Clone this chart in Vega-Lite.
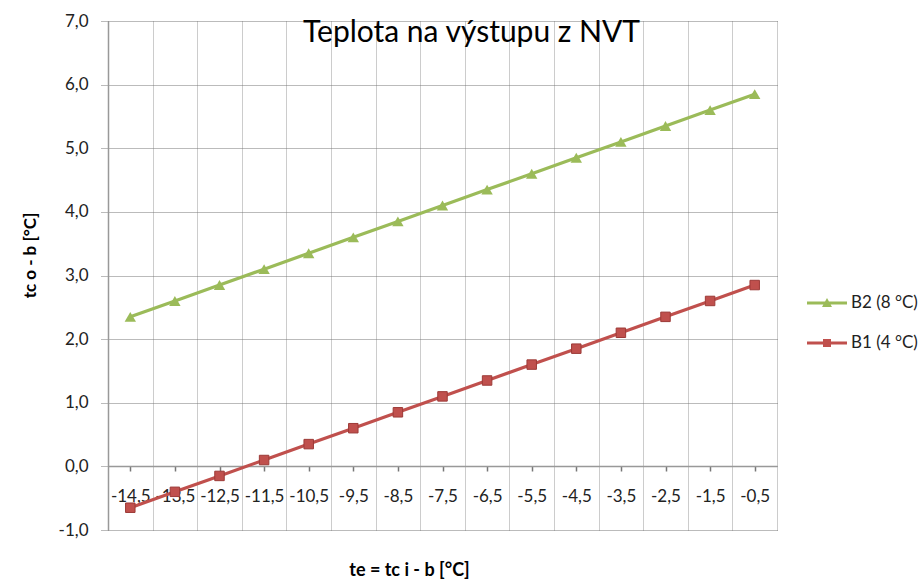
{
  "$schema": "https://vega.github.io/schema/vega-lite/v6.json",
  "width": 669,
  "height": 509,
  "autosize": {"type": "none"},
  "padding": {"left": 108, "top": 21, "right": 145, "bottom": 49},
  "background": "white",
  "config": {"font": "Lato", "view": {"stroke": null}},
  "title": {"text": "Teplota na výstupu z NVT", "fontSize": 30, "fontWeight": "normal", "font": "Lato", "color": "#000", "frame": "group", "baseline": "alphabetic", "offset": -25, "dx": 29, "dy": 35},
  "data": {"values": [
    {"te": -14.5, "series": "B2 (8 °C)", "t": 2.35},
    {"te": -13.5, "series": "B2 (8 °C)", "t": 2.6},
    {"te": -12.5, "series": "B2 (8 °C)", "t": 2.85},
    {"te": -11.5, "series": "B2 (8 °C)", "t": 3.1},
    {"te": -10.5, "series": "B2 (8 °C)", "t": 3.35},
    {"te": -9.5, "series": "B2 (8 °C)", "t": 3.6},
    {"te": -8.5, "series": "B2 (8 °C)", "t": 3.85},
    {"te": -7.5, "series": "B2 (8 °C)", "t": 4.1},
    {"te": -6.5, "series": "B2 (8 °C)", "t": 4.35},
    {"te": -5.5, "series": "B2 (8 °C)", "t": 4.6},
    {"te": -4.5, "series": "B2 (8 °C)", "t": 4.85},
    {"te": -3.5, "series": "B2 (8 °C)", "t": 5.1},
    {"te": -2.5, "series": "B2 (8 °C)", "t": 5.35},
    {"te": -1.5, "series": "B2 (8 °C)", "t": 5.6},
    {"te": -0.5, "series": "B2 (8 °C)", "t": 5.85},
    {"te": -14.5, "series": "B1 (4 °C)", "t": -0.65},
    {"te": -13.5, "series": "B1 (4 °C)", "t": -0.4},
    {"te": -12.5, "series": "B1 (4 °C)", "t": -0.15},
    {"te": -11.5, "series": "B1 (4 °C)", "t": 0.1},
    {"te": -10.5, "series": "B1 (4 °C)", "t": 0.35},
    {"te": -9.5, "series": "B1 (4 °C)", "t": 0.6},
    {"te": -8.5, "series": "B1 (4 °C)", "t": 0.85},
    {"te": -7.5, "series": "B1 (4 °C)", "t": 1.1},
    {"te": -6.5, "series": "B1 (4 °C)", "t": 1.35},
    {"te": -5.5, "series": "B1 (4 °C)", "t": 1.6},
    {"te": -4.5, "series": "B1 (4 °C)", "t": 1.85},
    {"te": -3.5, "series": "B1 (4 °C)", "t": 2.1},
    {"te": -2.5, "series": "B1 (4 °C)", "t": 2.35},
    {"te": -1.5, "series": "B1 (4 °C)", "t": 2.6},
    {"te": -0.5, "series": "B1 (4 °C)", "t": 2.85}
  ]},
  "encoding": {
    "y": {"field": "t", "type": "quantitative",
      "scale": {"domain": [-1, 7], "nice": false, "zero": false},
      "axis": {"values": [-1, 0, 1, 2, 3, 4, 5, 6, 7],
        "labelExpr": "replace(replace(format(datum.value, '.1f'), '.', ','), '\u2212', '-')",
        "labelFontSize": 17, "labelColor": "#222", "labelFont": "Lato", "labelPadding": 12,
        "tickSize": 8, "tickColor": "#777", "tickDash": [1, 1],
        "grid": true, "gridColor": "#777", "gridDash": [1, 1], "gridWidth": 1,
        "domain": true, "domainColor": "#999", "domainWidth": 1.5,
        "title": "tc o - b [°C]", "titleFontSize": 17, "titleFontWeight": "bold", "titleFont": "Lato", "titleColor": "#000",
        "titleX": -78, "titleY": 234, "titleAlign": "center", "titleBaseline": "middle"}
    }
  },
  "resolve": {"axis": {"x": "independent"}},
  "layer": [
    {
      "mark": {"type": "line", "strokeWidth": 3.2},
      "encoding": {
        "x": {"field": "te", "type": "quantitative",
          "scale": {"domain": [-15, 0], "nice": false, "zero": false},
          "axis": {"orient": "bottom", "values": [-15, -14, -13, -12, -11, -10, -9, -8, -7, -6, -5, -4, -3, -2, -1, 0],
            "labels": false, "ticks": false, "domain": false,
            "grid": true, "gridColor": "#999", "gridDash": [1, 1], "gridWidth": 1,
            "title": "te =  tc i - b [°C]", "titleFontSize": 18, "titleFontWeight": "bold", "titleFont": "Lato", "titleColor": "#000",
            "titleX": 301, "titleY": 40, "titleAlign": "center", "titleBaseline": "middle"}},
        "color": {"field": "series", "type": "nominal", "title": null,
          "scale": {"domain": ["B2 (8 °C)", "B1 (4 °C)"], "range": ["#9BBB59", "#C0504D"]}}
      }
    },
    {
      "transform": [{"filter": "datum.series === 'B2 (8 °C)'"}],
      "mark": {"type": "point", "shape": "triangle-up", "filled": true, "size": 130, "color": "#9BBB59", "opacity": 1},
      "encoding": {
        "x": {"field": "te", "type": "quantitative",
          "axis": {"orient": "bottom", "offset": -64,
            "values": [-14.5, -13.5, -12.5, -11.5, -10.5, -9.5, -8.5, -7.5, -6.5, -5.5, -4.5, -3.5, -2.5, -1.5, -0.5],
            "labelExpr": "replace(replace(format(datum.value, '.1f'), '.', ','), '\u2212', '-')",
            "labelFontSize": 17, "labelColor": "#222", "labelFont": "Lato",
            "labelOverlap": false, "labelBound": false, "labelFlush": false, "labelPadding": 17,
            "tickSize": 5, "tickColor": "#777", "tickWidth": 1.5,
            "domain": true, "domainColor": "#999", "domainWidth": 1.5,
            "grid": false, "title": null}}
      }
    },
    {
      "transform": [{"filter": "datum.series === 'B1 (4 °C)'"}],
      "mark": {"type": "point", "shape": "square", "filled": true, "size": 90, "color": "#C0504D", "stroke": "#9c3a37", "strokeWidth": 1, "opacity": 1},
      "encoding": {
        "x": {"field": "te", "type": "quantitative", "axis": null}
      }
    },
    {
      "mark": {"type": "point", "filled": true, "opacity": 0},
      "encoding": {
        "x": {"field": "te", "type": "quantitative", "axis": null},
        "color": {"field": "series", "type": "nominal", "title": null,
          "legend": {"orient": "none", "legendX": 699, "legendY": 262, "title": null,
            "labelFontSize": 17, "labelFont": "Lato", "labelColor": "#222",
            "symbolType": "M-1,-0.075H1V0.075H-1Z",
            "symbolSize": 1600, "symbolOpacity": 1, "symbolStrokeWidth": 0, "rowPadding": 12, "labelOffset": 4,
            "encode": {"symbols": {"update": {"opacity": {"value": 1}, "fillOpacity": {"value": 1}}}}}},
        "shape": {"field": "series", "type": "nominal", "title": null,
          "scale": {"domain": ["B2 (8 °C)", "B1 (4 °C)"],
            "range": ["M-1,-0.075H1V0.075H-1Z M-0.25,0.2L0,-0.25L0.25,0.2Z", "M-1,-0.075H1V0.075H-1Z M-0.2,-0.2H0.2V0.2H-0.2Z"]}}
      }
    }
  ]
}
